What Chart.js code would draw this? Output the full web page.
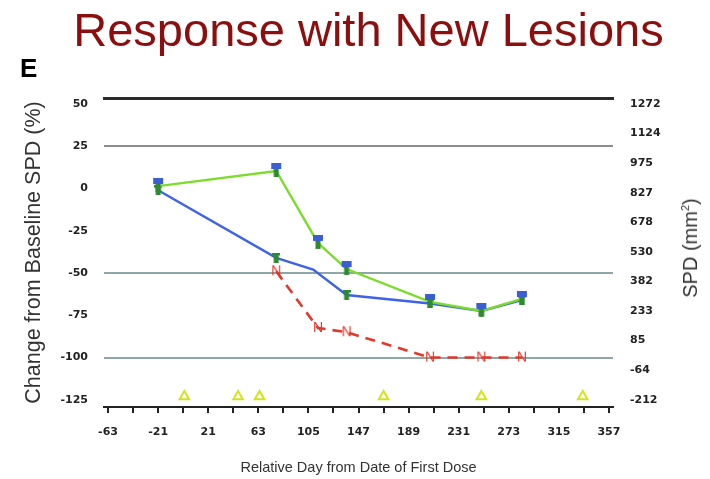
<!DOCTYPE html>
<html>
<head>
<meta charset="utf-8">
<script src="https://cdn.jsdelivr.net/npm/chart.js@4.4.1/dist/chart.umd.min.js"></script>
<style>
  html, body { margin: 0; padding: 0; background: #fff; }
  #wrap { position: relative; width: 710px; height: 479px; overflow: hidden; }
  #c { position: absolute; left: 0; top: 0; }
  .title { position: absolute; left: 0; width: 737px; top: 6px; text-align: center;
           font: 47px/47px "Liberation Sans", Arial, sans-serif; color: #8b0f0f; white-space: nowrap; }
  .panel { position: absolute; left: 20px; top: 55px; font: bold 26px/26px "Liberation Sans", Arial, sans-serif; color: #000; }
  .rtitle { position: absolute; left: 690px; top: 248px; transform: translate(-50%, -50%) rotate(-90deg);
            font: 20px/20px "Liberation Sans", Arial, sans-serif; color: #333; white-space: nowrap; }
  .rtitle sup { font-size: 11px; line-height: 0; vertical-align: super; }
</style>
</head>
<body>
<div id="wrap">
  <canvas id="c" width="710" height="479"></canvas>
  <div class="title">Response with New Lesions</div>
  <div class="panel">E</div>
  <div class="rtitle">SPD (mm<sup>2</sup>)</div>
</div>
<script>
// Tumour assessment days (relative day from first dose)
const assessDays = [-21, 78, 113, 137, 207, 250, 284];
// Sum of the products of diameters, mm² (right axis)
const spdValues = [860, 936, 575, 444, 279, 234, 294];
// Percent change from baseline SPD (left axis)
const pctDays = [-21, 78, 109, 137, 207, 250, 284];
const pctValues = [-1, -41, -48, -63, -68, -72.5, -66];
// New-lesion track ("N"), on the percent scale
const newLesionDays = [78, 113, 137, 207, 250, 284];
const newLesionValues = [-49, -82.5, -85, -100, -100, -100];
// Dosing days, shown as triangles along the bottom
const doseDays = [1, 46, 64, 168, 250, 335];
const doseLevel = -123;

// Axis ticks
const xTicks = [-63, -42, -21, 0, 21, 42, 63, 84, 105, 126, 147, 168, 189, 210, 231, 252, 273, 294, 315, 336, 357];
const xLabelTicks = [-63, -21, 21, 63, 105, 147, 189, 231, 273, 315, 357];
const pctTicks = [-125, -100, -75, -50, -25, 0, 25, 50];
const spdTicks = [-212, -63.6, 84.8, 233.2, 381.6, 530, 678.4, 826.8, 975.2, 1123.6, 1272];
const refLines = [25, -50, -100];

// Scale bounds; the SPD axis is tied to the percent axis (-125% <-> -212, 50% <-> 1272)
const PCT_MIN = -129.26, PCT_MAX = 53.55;
const SPD_PER_PCT = (1272 - (-212)) / (50 - (-125));
const SPD_MIN = -212 + (PCT_MIN + 125) * SPD_PER_PCT;
const SPD_MAX = 1272 + (PCT_MAX - 50) * SPD_PER_PCT;
const X_MIN = -66.4, X_MAX = 360.4;

function makeCanvas(w, h, draw) {
  const c = document.createElement('canvas');
  c.width = w; c.height = h;
  draw(c.getContext('2d'));
  return c;
}
// Blue cap over a green stem
const spdMarker = makeCanvas(12, 16, g => {
  g.fillStyle = '#3a5fd2'; g.fillRect(1, 0, 10, 6);
  g.fillStyle = '#2e8a30'; g.fillRect(3.5, 6, 5, 8);
});
// Small green T
const pctMarker = makeCanvas(8, 10, g => {
  g.fillStyle = '#2e8a30'; g.fillRect(0, 0, 8, 2.5); g.fillRect(1.5, 0, 5, 10);
});
// "N" marks for new lesions
const nMarker = makeCanvas(16, 16, g => {
  g.fillStyle = '#e0382a';
  g.font = '14px "Liberation Sans", Arial, sans-serif';
  g.textAlign = 'center'; g.textBaseline = 'middle';
  g.fillText('N', 8, 8.5);
});

const pts = (xs, ys) => xs.map((x, i) => ({ x, y: ys[i] }));
const tickFont = { family: 'DejaVu Sans', weight: 'bold', size: 11 };

new Chart(document.getElementById('c'), {
  type: 'line',
  data: {
    datasets: [
      {
        label: 'SPD', yAxisID: 'ySpd', order: 0,
        data: pts(assessDays, spdValues),
        borderColor: '#7bdc2c', borderWidth: 2.4, tension: 0,
        pointStyle: spdMarker, pointRadius: 4
      },
      {
        label: '% change', yAxisID: 'y', order: 1,
        data: pts(pctDays, pctValues),
        borderColor: '#3f63e6', borderWidth: 2.4, tension: 0,
        pointStyle: pctMarker,
        pointRadius: ctx => assessDays.includes(pctDays[ctx.dataIndex]) ? 4 : 0
      },
      {
        label: 'New lesions', yAxisID: 'y', order: 2,
        data: pts(newLesionDays, newLesionValues),
        borderColor: '#e2392d', borderWidth: 2.6, borderDash: [10, 7], tension: 0,
        pointStyle: nMarker, pointRadius: 4
      },
      {
        label: 'Dose', yAxisID: 'y', order: 3,
        data: doseDays.map(d => ({ x: d, y: doseLevel })),
        showLine: false,
        pointStyle: 'triangle', pointRadius: 5.5,
        borderColor: '#d2e41e', borderWidth: 2, backgroundColor: 'rgba(255,255,255,0)'
      }
    ]
  },
  options: {
    responsive: false,
    animation: false,
    devicePixelRatio: 1,
    layout: { padding: { top: 98, left: 0, right: 0, bottom: 0 } },
    plugins: { legend: { display: false }, tooltip: { enabled: false }, title: { display: false } },
    scales: {
      x: {
        type: 'linear', position: 'bottom', min: X_MIN, max: X_MAX,
        afterBuildTicks: s => { s.ticks = xTicks.map(v => ({ value: v })); },
        afterFit: s => { s.height = 72; },
        grid: { drawOnChartArea: false, drawTicks: true, tickLength: 6, color: '#222', lineWidth: 2 },
        border: { display: true, color: '#222', width: 2 },
        ticks: {
          autoSkip: false, maxRotation: 0, padding: 13, color: '#222', font: tickFont,
          callback: v => xLabelTicks.includes(v) ? String(v) : ''
        },
        title: {
          display: true, text: 'Relative Day from Date of First Dose', color: '#333',
          font: { family: 'Liberation Sans', size: 14.5 }, padding: { top: 2, bottom: 2 }
        }
      },
      xTop: {
        type: 'linear', position: 'top', min: X_MIN, max: X_MAX,
        afterFit: s => { s.height = 0; },
        grid: { drawOnChartArea: false, drawTicks: false },
        border: { display: true, color: '#2a2a2a', width: 3 },
        ticks: { display: false }
      },
      y: {
        type: 'linear', position: 'left', min: PCT_MIN, max: PCT_MAX,
        afterBuildTicks: s => { s.ticks = pctTicks.map(v => ({ value: v })); },
        afterFit: s => { s.width = 104; },
        grid: {
          drawTicks: false, lineWidth: 2,
          color: ctx => {
            const v = ctx.tick ? ctx.tick.value : null;
            if (!refLines.includes(v)) return 'rgba(0,0,0,0)';
            return v === 25 ? '#8c8c8c' : '#8fa6a6';
          }
        },
        border: { display: false },
        ticks: { autoSkip: false, padding: 16, color: '#222', font: tickFont },
        title: {
          display: true, text: 'Change from Baseline SPD (%)', color: '#333',
          font: { family: 'Liberation Sans', size: 21.5 }, padding: { top: 21, bottom: 0 }
        }
      },
      ySpd: {
        type: 'linear', position: 'right', min: SPD_MIN, max: SPD_MAX,
        afterBuildTicks: s => { s.ticks = spdTicks.map(v => ({ value: v })); },
        afterFit: s => { s.width = 97; },
        grid: { display: false, drawOnChartArea: false, drawTicks: false },
        border: { display: false },
        ticks: { autoSkip: false, padding: 17, color: '#222', font: tickFont,
                 callback: v => String(Math.round(v)) }
      }
    }
  }
});
</script>
</body>
</html>
